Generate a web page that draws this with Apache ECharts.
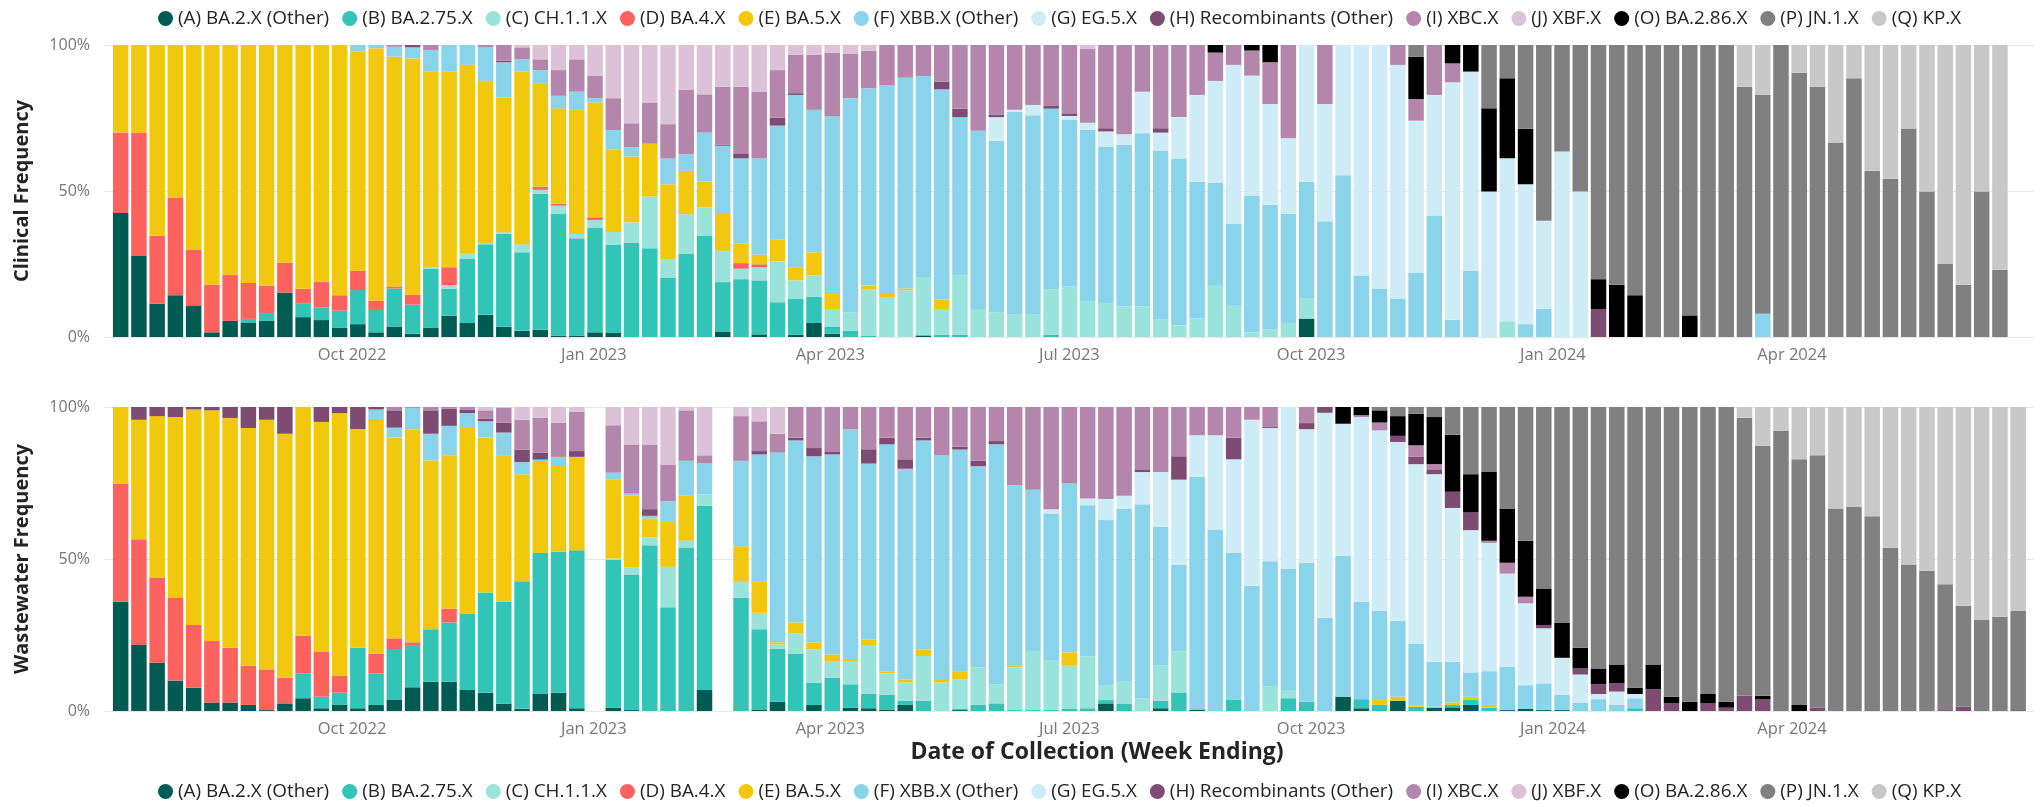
<!DOCTYPE html>
<html><head><meta charset="utf-8">
<script src="https://cdn.jsdelivr.net/npm/echarts@6/dist/echarts.min.js"></script>
<style>html,body{margin:0;padding:0;background:#fff}#c{width:2040px;height:807px}</style>
</head><body><div id="c"></div>
<script>
const variantNames = ['(A) BA.2.X (Other)','(B) BA.2.75.X','(C) CH.1.1.X','(D) BA.4.X','(E) BA.5.X','(F) XBB.X (Other)','(G) EG.5.X','(H) Recombinants (Other)','(I) XBC.X','(J) XBF.X','(O) BA.2.86.X','(P) JN.1.X','(Q) KP.X'];
const variantColors = ['#005B53','#33C4B8','#9AE3DA','#FD625E','#F2C80F','#8AD4EB','#CEECF6','#7E4B73','#B586AC','#DCC2D6','#000000','#808080','#C8C8C8'];
const firstWeekEnding = '2022-07-02';
const weekCount = 105;
const tickDates = ['2022-10-01','2023-01-01','2023-04-01','2023-07-01','2023-10-01','2024-01-01','2024-04-01'];
const tickLabels = ['Oct 2022','Jan 2023','Apr 2023','Jul 2023','Oct 2023','Jan 2024','Apr 2024'];
const wastewaterMissingWeeks = ['2022-12-31','2023-02-18'];

// ---- Clinical frequency (%), one value per week ----
const clinicalA = [42.5,27.7,11.4,14.3,10.6,1.6,5.5,5,5.5,15.2, 6.8,5.8,3.1,4.4,1.6,3.6,1.1,3.1,7.3,4.8, 7.6,3.5,2.1,2.5,0.5,0.5,1.6,1.4,0,0, 0,0,0,1.9,0,0.9,0,0.8,4.8,1.1, 0,0,0,0,0.4,0,0,0,0,0, 0,0,0,0,0,0,0,0,0,0, 0,0,0,0,0,6.3,0,0,0,0, 0,0,0,0,0,0,0,0,0,0, 0,0,0,0,0,0,0,0,0,0, 0,0,0,0,0,0,0,0,0,0, 0,0,0,0,0];
const clinicalB = [0,0,0,0,0,0,0,1.2,2.7,0, 4.6,4.3,5.9,11.7,8,13,10,20.2,9.3,21.9, 24.2,31.8,26.9,46.5,41.6,33.3,35.9,30.1,32.2,30.4, 20.4,28.6,34.8,16.9,19.8,18.5,11.9,12.2,8.9,2.5, 2.1,0.5,0,0,0.3,0.8,0.8,0,0,0, 0,0.8,0,0,0,0,0,0,0,0, 0,0,0,0,0,0,0,0,0,0, 0,0,0,0,0,0,0,0,0,0, 0,0,0,0,0,0,0,0,0,0, 0,0,0,0,0,0,0,0,0,0, 0,0,0,0,0];
const clinicalC = [0,0,0,0,0,0,0,0,0,0, 0,0,0,0,0,0,0,0.6,1.2,1.8, 0.4,0.6,2.8,1.4,2.9,1.5,2.6,4.5,7.1,17.7, 6.3,13.5,9.6,10.7,3.6,4.5,14,6.4,7.4,6, 6.3,15.7,13.7,16,19.6,8.8,20.3,9.6,8.4,7.6, 7.6,15.6,17.3,12.2,11.6,10.5,10.5,5.9,4,6.4, 17.8,10.7,1.6,2.7,4.8,6.8,0,0,0,0, 0,0,0,0,0,0,5.4,0,0,0, 0,0,0,0,0,0,0,0,0,0, 0,0,0,0,0,0,0,0,0,0, 0,0,0,0,0];
const clinicalD = [27.5,42.3,23.3,33.5,19.4,16.3,15.7,12.3,9.4,10.2, 5.1,8.7,5.3,6.6,2.8,0.7,3.4,0,6.1,0, 0,0,0,1.1,0.6,0,0.9,0,0,0, 0,0,0,0,1.9,1,0,0,0,0, 0,0,0,0,0,0,0,0,0,0, 0,0,0,0,0,0,0,0,0,0, 0,0,0,0,0,0,0,0,0,0, 0,0,0,0,0,0,0,0,0,0, 0,0,0,0,0,0,0,0,0,0, 0,0,0,0,0,0,0,0,0,0, 0,0,0,0,0];
const clinicalE = [30,30,65.3,52.2,70,82.1,78.8,81.5,82.4,74.6, 83.5,81.2,85.7,75.2,86.5,78.7,80.9,67,67,64.7, 55.5,46.1,59.1,35.2,32.7,42.5,39.3,28.3,22.5,18.1, 25.6,14.8,8.8,13,6.6,3.3,7.4,4.5,7.9,5.1, 0,1.4,1.4,0.6,0,3.2,0,0,0,0, 0,0,0,0,0,0,0,0,0,0, 0,0,0,0,0,0,0,0,0,0, 0,0,0,0,0,0,0,0,0,0, 0,0,0,0,0,0,0,0,0,0, 0,0,0,0,0,0,0,0,0,0, 0,0,0,0,0];
const clinicalF = [0,0,0,0,0,0,0,0,0,0, 0,0,0,2.1,1.1,3.4,3.8,7.4,9.1,6.8, 11.5,12.1,4.2,4.7,4.3,6.2,1.5,6.6,3.2,0, 8.8,5.7,16.8,23,29.3,33,39.1,59,48.8,60.8, 73.4,67.6,71.2,72.2,69.1,72,54.2,61,58.8,69.5, 68.3,61.8,57,58.7,53.6,55.3,59.3,58,57.1,46.8, 34.9,28,46.9,42.6,37.3,40.1,39.6,55.4,21.1,16.6, 13.2,22.1,41.6,5.9,22.6,0,0,4.4,9.6,0, 0,0,0,0,0,0,0,0,0,0, 8,0,0,0,0,0,0,0,0,0, 0,0,0,0,0];
const clinicalG = [0,0,0,0,0,0,0,0,0,0, 0,0,0,0,0,0,0,0,0,0, 0,0,0,0,0,0,0,0,0,0, 0,0,0,0,0,0,0,0,0,0, 0,0,0,0,0,0,0,0,8.1,0.7, 3.7,0,1.4,2.5,5.2,3.6,14.2,6.1,14.2,29.7, 35,54.5,41,34.5,26,46.8,40.2,44.6,78.9,83.4, 80,52,41.3,81.3,68.3,49.8,55.8,47.9,30.2,63.5, 49.8,0,0,0,0,0,0,0,0,0, 0,0,0,0,0,0,0,0,0,0, 0,0,0,0,0];
const clinicalH = [0,0,0,0,0,0,0,0,0,0, 0,0,0,0,0,0,0.8,0,0,0, 0,0.5,0,0,0,0,0,0,0,0, 0,0,0,0.3,1.7,0,2.7,0.6,0,0, 0,0,0,0,0,2.7,2.9,0,0.9,0, 0.4,0.9,0.9,0,1.1,0,0,1.5,0,0, 0,0,0,0,0,0,0,0,0,0, 0,0,0,0,0,0,0,0,0,0, 0,9.6,0,0,0,0,0,0,0,0, 0,0,0,0,0,0,0,0,0,0, 0,0,0,0,0];
const clinicalI = [0,0,0,0,0,0,0,0,0,0, 0,0,0,0,0,0.6,0,1.7,0,0, 0.8,5.4,4.1,3.7,8.8,11.1,7.6,10.9,8.2,14.1, 11.8,22,13.1,19.9,22.8,22.7,16.3,13.1,18.8,21.9, 15.3,12.9,13.7,11.2,10.6,12.5,21.8,29.4,23.8,22.2, 20,20.9,23.4,25.2,28.5,30.6,16,28.5,24.7,17.1, 9.7,6.8,8.6,14.3,31.9,0,20.2,0,0,0, 6.8,7.4,17.1,6.5,0,0,0,0,0,0, 0,0,0,0,0,0,0,0,0,0, 0,0,0,0,0,0,0,0,0,0, 0,0,0,0,0];
const clinicalJ = [0,0,0,0,0,0,0,0,0,0, 0,0,0,0,0,0,0,0,0,0, 0,0,0.8,4.9,8.6,4.9,10.6,18.2,26.8,19.7, 27.1,15.4,16.9,14.3,14.3,16.1,8.6,3.4,3.4,2.6, 2.9,1.9,0,0,0,0,0,0,0,0, 0,0,0,1.4,0,0,0,0,0,0, 0,0,0,0,0,0,0,0,0,0, 0,0,0,0,0,0,0,0,0,0, 0,0,0,0,0,0,0,0,0,0, 0,0,0,0,0,0,0,0,0,0, 0,0,0,0,0];
const clinicalO = [0,0,0,0,0,0,0,0,0,0, 0,0,0,0,0,0,0,0,0,0, 0,0,0,0,0,0,0,0,0,0, 0,0,0,0,0,0,0,0,0,0, 0,0,0,0,0,0,0,0,0,0, 0,0,0,0,0,0,0,0,0,0, 2.6,0,1.9,5.9,0,0,0,0,0,0, 0,14.5,0,6.3,9.1,28.5,27.4,19,0,0, 0,10.2,17.9,14.3,0,0,7.4,0,0,0, 0,0,0,0,0,0,0,0,0,0, 0,0,0,0,0];
const clinicalP = [0,0,0,0,0,0,0,0,0,0, 0,0,0,0,0,0,0,0,0,0, 0,0,0,0,0,0,0,0,0,0, 0,0,0,0,0,0,0,0,0,0, 0,0,0,0,0,0,0,0,0,0, 0,0,0,0,0,0,0,0,0,0, 0,0,0,0,0,0,0,0,0,0, 0,4,0,0,0,21.7,11.4,28.7,60.2,36.5, 50.2,80.2,82.1,85.7,100,100,92.6,100,100,85.7, 74.9,100,90.5,85.7,66.6,88.6,56.9,54.2,71.4,49.8, 25,17.9,49.8,23,0];
const clinicalQ = [0,0,0,0,0,0,0,0,0,0, 0,0,0,0,0,0,0,0,0,0, 0,0,0,0,0,0,0,0,0,0, 0,0,0,0,0,0,0,0,0,0, 0,0,0,0,0,0,0,0,0,0, 0,0,0,0,0,0,0,0,0,0, 0,0,0,0,0,0,0,0,0,0, 0,0,0,0,0,0,0,0,0,0, 0,0,0,0,0,0,0,0,0,14.3, 17.1,0,9.5,14.3,33.4,11.4,43.1,45.8,28.6,50.2, 75,82.1,50.2,77,0];

// ---- Wastewater frequency (%), one value per week ----
const wastewaterA = [35.9,21.7,15.9,10,7.7,2.8,2.8,2,0.3,2.5, 4.2,0.9,2,0.9,2,3.8,7.8,9.6,9.6,6.9, 6,2.4,0.7,5.6,6,0.9,0,1.1,0.3,0, 0,0,6.9,0,0,0.5,3.1,0,2,0, 1.1,0.9,0.5,2,0,0,0.3,0,0,0, 0,0,0,0,2.5,0,0,0.9,0,0.5, 0,0,0,0,0,0,0,4.7,0.9,0, 3.4,0,1.1,1.2,2,0,0.3,0.7,0.3,0.3, 0,0,0,0,0,0,0,0,0,0, 0,0,0,0,0,0,0,0,0,0, 0,0,0,0,0];
const wastewaterB = [0,0,0,0,0,0,0,0,0,0, 8.2,3.8,4,19.9,10.4,16.6,13.9,17.3,19.5,25, 33,33.5,42,46.4,46.4,52,0,48.6,44.6,54.5, 34.1,53.8,60.6,0,37.2,26.4,17.3,18.9,7.3,11, 7.7,4.7,4.8,1.3,3.4,0,0.5,2,2.5,0.3, 0.3,0.3,0.7,0.9,1.1,2.3,0,2.5,6.1,0, 0,3.8,0,0,4.2,3.1,0,0,3,2, 0,1.4,0,0.8,1.6,1.1,0,0,0,0, 0,0,0,0.9,0,0,0,0,0,0, 0,0,0,0,0,0,0,0,0,0, 0,0,0,0,0];
const wastewaterC = [0,0,0,0,0,0,0,0,0,0, 0,0,0,0,0,0,0,0,0,0, 0,0,0,0,0,0,0,0.5,2.5,2.6, 13.3,2.2,3.7,0,5.3,5.4,1.5,6.7,11,5.2, 7.4,16.1,7.1,6.1,14.7,9.4,9.6,12.3,6.3,14, 19.2,16.2,14.2,17,4.9,7.3,4.2,11.7,13.6,0, 0,0,0,8.2,2.7,0,0,0,0,0, 0,0,0,0,0,0,0,0,0,0, 0,0,0,0,0,0,0,0,0,0, 0,0,0,0,0,0,0,0,0,0, 0,0,0,0,0];
const wastewaterD = [38.9,34.8,28,27.2,20.6,20.2,18,12.9,13.4,8.5, 12.4,14.7,5.5,0,6.5,3.5,0.9,0,4.6,0, 0,0,0,0,0,0,0,0,0,0, 0,0,0,0,0,0,0,0,0,0, 0,0,0,0,0,0,0,0,0,0, 0,0,0,0,0,0,0,0,0,0, 0,0,0,0,0,0,0,0,0,0, 0,0,0,0,0,0,0,0,0,0, 0,0,0,0,0,0,0,0,0,0, 0,0,0,0,0,0,0,0,0,0, 0,0,0,0,0];
const wastewaterE = [25.2,39.3,53.1,59.5,70.9,75.9,75.6,78.2,82.1,80.2, 75.2,75.7,86.5,71.9,77.2,66.1,70.1,55.5,50.4,61.5, 51,48.2,35.2,29.9,28.2,30.7,0,26,23.6,6.2, 14.8,14.8,0,0,11.7,10.4,0.7,3.5,2.3,2.4, 0.9,1.8,0.5,1,2.2,0.8,2.7,0,0,0.8, 0,0,4.4,0,0,0,0,0,0,0, 0,0,0,0,0,0,0,0,0,1.6, 1.3,0.5,0.3,0.8,1.1,0.9,0,0,0,0, 0,0,0,0,0,0,0,0,0,0, 0,0,0,0,0,0,0,0,0,0, 0,0,0,0,0];
const wastewaterF = [0,0,0,0,0,0,0,0,0,0, 0,0,0,0,3.1,3.2,7,8.8,9.7,4.6, 5.3,7.5,4,0.8,3,0,0,2.2,0.5,0.9, 6.8,11.5,10.2,0,28.1,41.7,62.4,59.9,61.2,65.8, 75.6,57.9,74.8,69.3,68.7,73.9,72.9,66.2,78.9,59.2, 53.3,48.5,55.5,49.8,54.3,57,63.8,45.5,28.3,76.5, 59.7,48.2,41.2,41.1,39.8,45.7,30.7,46.3,32,29.3, 25,20.3,14.8,13.4,8,11.1,14.3,7.8,8.8,5, 2.8,3.9,2,3.3,0,0,0,0,0,0, 0,0,0,0,0,0,0,0,0,0, 0,0,0,0,0];
const wastewaterG = [0,0,0,0,0,0,0,0,0,0, 0,0,0,0,0,0,0,0,0,0, 0,0,0,0,0,0,0,0,0,0, 0,0,0,0,0,0,0,0,0,0, 0,0,0,0,0,0,0,0,0,0, 0,1.4,0,2.2,6.9,4.2,10.6,18,28.1,13.7, 31,30.8,54.6,43.8,53.3,43.9,67.4,43.5,60.8,59.4, 58.8,59,61.7,50.6,46.8,42.2,30.6,26.9,18.1,12.2, 9.2,1.7,4.4,1.4,0,0,0,0,0,0, 0,0,0,0,0,0,0,0,0,0, 0,0,0,0,0];
const wastewaterH = [0,4.2,3,3.3,0.8,1.1,3.6,6.9,4.2,8.8, 0,4.9,2,7.3,0.8,5.7,0,7.7,5.7,1.2, 0.9,3.3,4.1,2.3,0,1.9,0,0,0,2.2, 0,0,0,0,0,1.1,0,0.9,2.7,0.8, 0,4.7,2.2,3.1,0.9,0,0.9,1.8,1.1,0, 0,0,0,0,0,0,0.9,0,7.7,0, 0,7.1,0,0.3,0,2,1.9,0,0,0, 2,2.4,1.6,5.3,5.8,0,0,0,1.1,0, 2,3.2,2.7,0,7.2,2.5,0,2.5,1.1,5, 3.8,0,0,1.1,0,0,0,0,0,0, 0.3,1.4,0,0,0.3];
const wastewaterI = [0,0,0,0,0,0,0,0,0,0, 0,0,0,0,0,1.1,0.3,1.1,0.5,0.8, 2.7,4.8,9.8,11.4,11.3,12.9,0,15.6,16.2,21.3, 12.1,16.6,2.7,0,14.7,9.8,6.2,10.1,13.5,14.8, 7.3,13.9,10.1,17.2,10.1,15.9,13.1,17.7,11.2,25.7, 27.2,33.6,25.2,30.1,30.3,29.2,20.5,21.4,16.2,9.3, 9.3,10.1,4.2,6.6,0,5.3,0,0,0.6,2.6, 0,3.8,1.7,0,0,0.7,3.6,2.2,0,0, 0,0,0,0,0,0,0,0,0,0, 0,0,0,0,0,0,0,0,0,0, 0,0,0,0,0];
const wastewaterJ = [0,0,0,0,0,0,0,0,0,0, 0,0,0,0,0,0,0,0,0,0, 1.1,0.3,4.2,3.6,5.1,1.6,0,6,12.3,12.3, 18.9,1.1,15.9,0,3,4.7,8.8,0,0,0, 0,0,0,0,0,0,0,0,0,0, 0,0,0,0,0,0,0,0,0,0, 0,0,0,0,0,0,0,0,0,0, 0,0,0,0,0,0,0,0,0,0, 0,0,0,0,0,0,0,0,0,0, 0,0,0,0,0,0,0,0,0,0, 0,0,0,0,0];
const wastewaterO = [0,0,0,0,0,0,0,0,0,0, 0,0,0,0,0,0,0,0,0,0, 0,0,0,0,0,0,0,0,0,0, 0,0,0,0,0,0,0,0,0,0, 0,0,0,0,0,0,0,0,0,0, 0,0,0,0,0,0,0,0,0,0, 0,0,0,0,0,0,0,5.5,2.7,4, 6.5,10.4,15.5,18.8,12.6,22.6,17.8,18.4,12,11.6, 6.8,5.2,6.2,2.1,8.1,2.2,3.1,3.1,2,0, 1.2,0,2,0,0,0,0,0,0,0, 0,0,0,0,0];
const wastewaterP = [0,0,0,0,0,0,0,0,0,0, 0,0,0,0,0,0,0,0,0,0, 0,0,0,0,0,0,0,0,0,0, 0,0,0,0,0,0,0,0,0,0, 0,0,0,0,0,0,0,0,0,0, 0,0,0,0,0,0,0,0,0,0, 0,0,0,0,0,0,0,0,0,1.1, 3,2.2,3.3,9.1,22.1,21.4,33.4,44,59.7,70.9, 79.2,86,84.7,92.3,84.7,95.3,96.9,94.4,96.9,91.5, 82.2,92.1,80.8,83,66.6,67.1,64.1,53.7,48.2,46.1, 41.4,33.2,29.9,31,32.6];
const wastewaterQ = [0,0,0,0,0,0,0,0,0,0, 0,0,0,0,0,0,0,0,0,0, 0,0,0,0,0,0,0,0,0,0, 0,0,0,0,0,0,0,0,0,0, 0,0,0,0,0,0,0,0,0,0, 0,0,0,0,0,0,0,0,0,0, 0,0,0,0,0,0,0,0,0,0, 0,0,0,0,0,0,0,0,0,0, 0,0,0,0,0,0,0,0,0,3.5, 12.8,7.9,17.2,15.9,33.4,32.9,35.9,46.3,51.8,53.9, 58.3,65.4,70.1,69,67.1];

const clinicalSets = [clinicalA,clinicalB,clinicalC,clinicalD,clinicalE,clinicalF,clinicalG,clinicalH,clinicalI,clinicalJ,clinicalO,clinicalP,clinicalQ];
const wastewaterSets = [wastewaterA,wastewaterB,wastewaterC,wastewaterD,wastewaterE,wastewaterF,wastewaterG,wastewaterH,wastewaterI,wastewaterJ,wastewaterO,wastewaterP,wastewaterQ];

const DAY = 86400000;
const t0 = Date.parse(firstWeekEnding + 'T00:00:00Z');
const dayOf = d => Math.round((Date.parse(d + 'T00:00:00Z') - t0) / DAY);
const weeks = [];
for (let i = 0; i < weekCount; i++) weeks.push(t0 + i * 7 * DAY);
const tickDays = tickDates.map(dayOf);
const labelOf = {};
tickDays.forEach((t, i) => { labelOf[t] = tickLabels[i]; });
const missingW = new Set(wastewaterMissingWeeks.map(d => Date.parse(d + 'T00:00:00Z')));

const FONT = 'Open Sans';
const dMin = -3.42, dMax = 731.1;   // visible date range, in days from first week ending

function buildSeries(sets, stack, idx, skip) {
  const totals = weeks.map((w, i) => sets.reduce((s, a) => s + a[i], 0));
  return variantNames.map((name, k) => ({
    name, type: 'bar', stack, xAxisIndex: idx, yAxisIndex: idx,
    barWidth: 15.5,
    itemStyle: { color: variantColors[k] },
    emphasis: { disabled: true },
    data: weeks.map((w, i) => {
      const tot = totals[i];
      const v = (tot > 0 && !(skip && skip.has(w))) ? sets[k][i] / tot * 100 : 0;
      return [w, v];
    })
  }));
}

// time axis carrying the bars (labels hidden)
function timeAxisCfg(g) {
  return {
    type: 'time', gridIndex: g, position: 'top', min: t0 + dMin * DAY, max: t0 + dMax * DAY,
    axisLine: { show: false }, axisTick: { show: false }, splitLine: { show: false },
    axisLabel: { show: false }
  };
}
// same date range in days, showing the quarter labels
function labelAxisCfg(g) {
  return {
    type: 'value', gridIndex: g, position: 'bottom', min: dMin, max: dMax,
    axisLine: { show: false }, axisTick: { show: false }, splitLine: { show: false },
    axisLabel: {
      customValues: tickDays,
      formatter: v => labelOf[Math.round(v)] || '',
      fontFamily: FONT, fontSize: 16.5, color: '#777777', margin: 10, hideOverlap: false
    }
  };
}
function yAxisCfg(g) {
  return {
    type: 'value', gridIndex: g, min: 0, max: 100, interval: 50,
    axisLine: { show: false }, axisTick: { show: false },
    splitLine: { lineStyle: { color: '#e8e8e8', width: 1 } },
    axisLabel: { formatter: '{value}%', fontFamily: FONT, fontSize: 16, color: '#777777', margin: 14 }
  };
}
function legendCfg(top) {
  return {
    top, left: 158, padding: 0, itemWidth: 15, itemHeight: 15, itemGap: 13, icon: 'circle',
    textStyle: { fontFamily: FONT, fontSize: 18.9, color: '#252423' },
    data: variantNames
  };
}
function textEl(text, x, y, size, rot) {
  return { type: 'text', x, y, rotation: rot || 0, silent: true,
    style: { text, font: 'bold ' + size + 'px "' + FONT + '"', fill: '#252423',
      align: 'center', verticalAlign: 'middle', textAlign: 'center', textVerticalAlign: 'middle' } };
}

const chart = echarts.init(document.getElementById('c'), null, { renderer: 'canvas' });
chart.setOption({
  animation: false,
  backgroundColor: '#ffffff',
  legend: [legendCfg(9), legendCfg(782)],
  grid: [
    { left: 104, right: 6, top: 45, height: 292 },
    { left: 104, right: 6, top: 407, height: 304 }
  ],
  xAxis: [timeAxisCfg(0), timeAxisCfg(1), labelAxisCfg(0), labelAxisCfg(1)],
  yAxis: [yAxisCfg(0), yAxisCfg(1)],
  graphic: [
    textEl('Clinical Frequency', 22, 191, 20, Math.PI / 2),
    textEl('Wastewater Frequency', 22, 559, 20, Math.PI / 2),
    textEl('Date of Collection (Week Ending)', 1097, 752, 23, 0)
  ],
  series: buildSeries(clinicalSets, 'clinical', 0, null).concat(buildSeries(wastewaterSets, 'wastewater', 1, missingW))
});
</script></body></html>
